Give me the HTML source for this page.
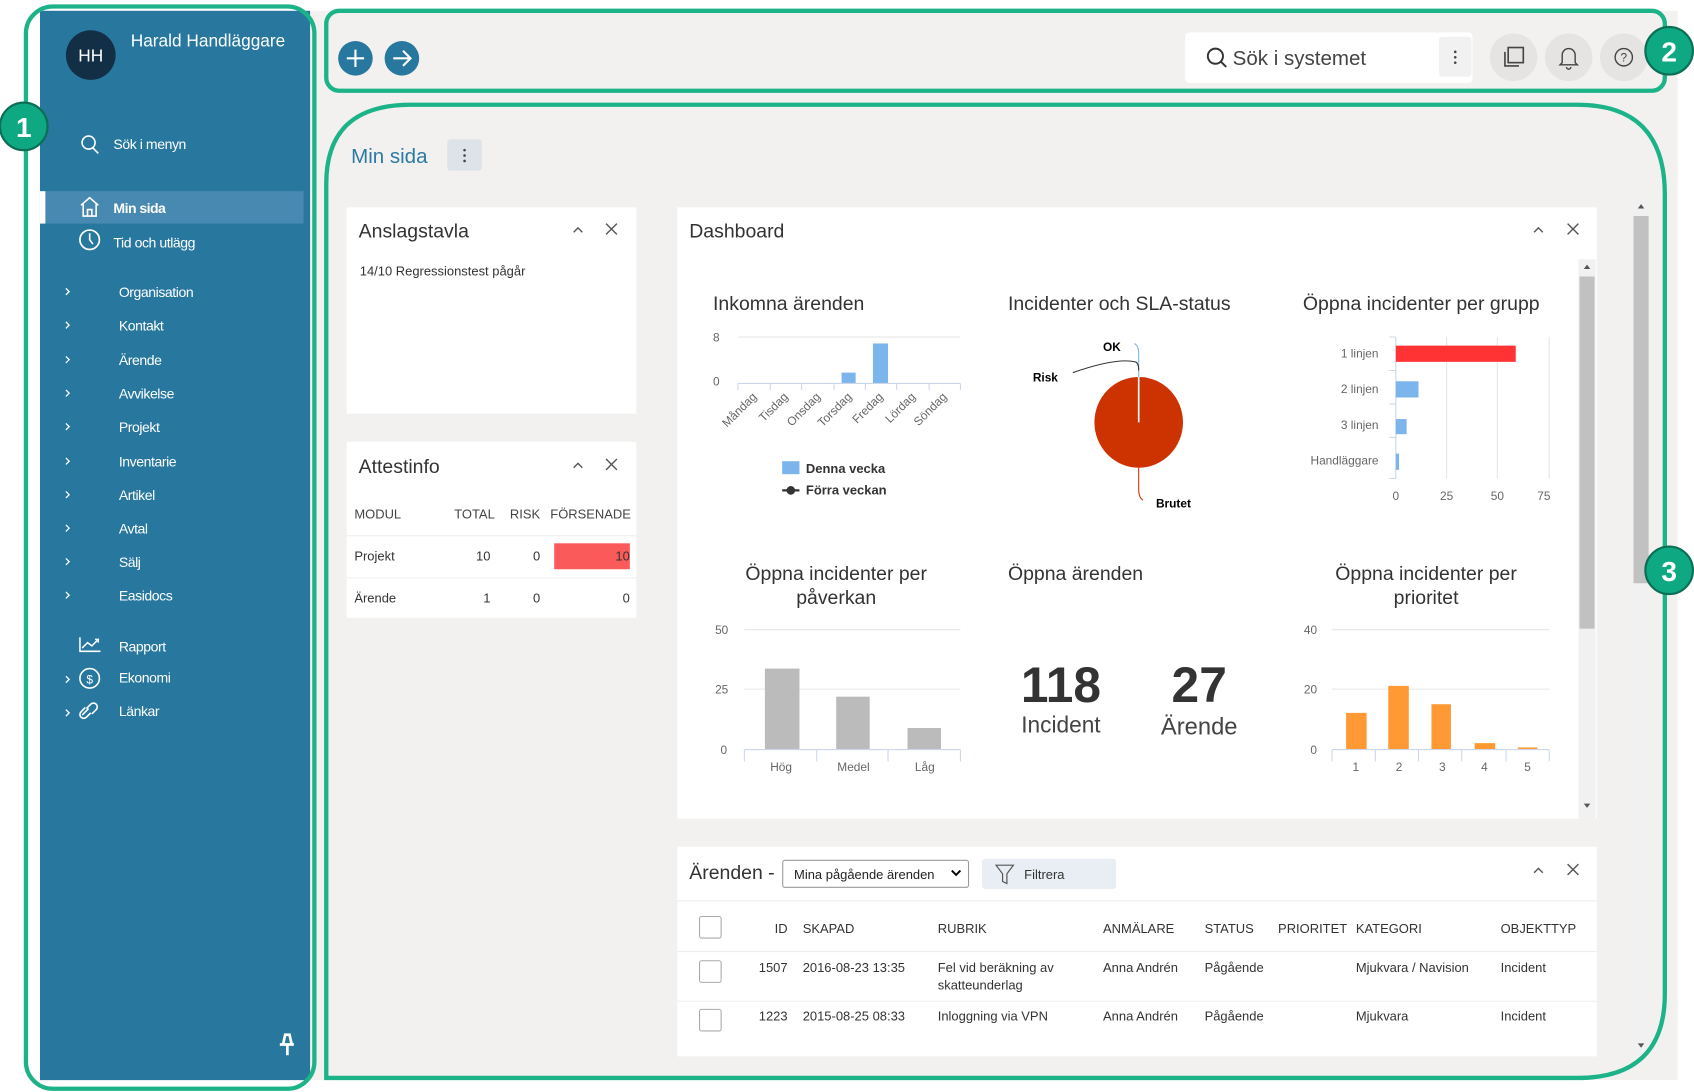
<!DOCTYPE html>
<html><head><meta charset="utf-8">
<style>
html,body{margin:0;padding:0;background:#fff;width:1694px;height:1092px;overflow:hidden}
svg{display:block}
text{font-family:"Liberation Sans",sans-serif}
</style></head><body>
<svg width="1694" height="1092" viewBox="0 0 1568 1011" preserveAspectRatio="none" xmlns="http://www.w3.org/2000/svg">
<rect x="0" y="0" width="1568" height="1011" fill="#fff"/>
<rect x="37" y="10" width="1516" height="990" fill="#f2f1ef"/>
<!-- sidebar -->
<rect x="37" y="10" width="250" height="990" fill="#27779f"/>
<circle cx="84" cy="51" r="23" fill="#132f45"/>
<text x="84" y="57" font-size="16" fill="#fff" text-anchor="middle">HH</text>
<text x="121" y="43" font-size="16" fill="#fff">Harald Handläggare</text>
<circle cx="82" cy="132" r="6" fill="none" stroke="#fff" stroke-width="1.5"/><line x1="86" y1="137" x2="91" y2="142" stroke="#fff" stroke-width="1.5"/>
<text x="105" y="138" font-size="13" fill="#fff" letter-spacing="-0.4">Sök i menyn</text>
<rect x="37" y="177" width="244" height="30" fill="#4789b0"/>
<rect x="37" y="177" width="5" height="30" fill="#fff"/>
<path d="M75 190 L83 183 L91 190 M77 189 V200 H89 V189 M81 200 V194 H85 V200" fill="none" stroke="#fff" stroke-width="1.5"/>
<text x="105" y="197" font-size="13" fill="#fff" font-weight="bold" letter-spacing="-0.5">Min sida</text>
<circle cx="83" cy="222" r="9" fill="none" stroke="#fff" stroke-width="1.6"/><path d="M83 216 V222 L86 226" fill="none" stroke="#fff" stroke-width="1.5"/>
<text x="105" y="229" font-size="13" fill="#fff" letter-spacing="-0.4">Tid och utlägg</text>
<g font-size="13" fill="#fff" letter-spacing="-0.4">
<text x="110" y="275">Organisation</text><text x="110" y="306">Kontakt</text><text x="110" y="338">Ärende</text><text x="110" y="369">Avvikelse</text><text x="110" y="400">Projekt</text><text x="110" y="432">Inventarie</text><text x="110" y="463">Artikel</text><text x="110" y="494">Avtal</text><text x="110" y="525">Sälj</text><text x="110" y="556">Easidocs</text>
<text x="110" y="603">Rapport</text><text x="110" y="632">Ekonomi</text><text x="110" y="663">Länkar</text>
</g>
<g fill="none" stroke="#fff" stroke-width="1.2">
<path d="M61 267 l3 3 l-3 3 M61 298 l3 3 l-3 3 M61 330 l3 3 l-3 3 M61 361 l3 3 l-3 3 M61 392 l3 3 l-3 3 M61 424 l3 3 l-3 3 M61 455 l3 3 l-3 3 M61 486 l3 3 l-3 3 M61 517 l3 3 l-3 3 M61 548 l3 3 l-3 3 M61 626 l3 3 l-3 3 M61 657 l3 3 l-3 3"/>
<path d="M74 590 V603 H93 M76 600 l5 -5 l4 3 l6 -6 M88 592 h3 v3" stroke-width="1.4"/>
<circle cx="83" cy="628" r="9" stroke-width="1.5"/>
<path d="M76 662 l6 -6 M80 656 l4-4 a3 3 0 0 1 5 5 l-4 4 M84 660 l-4 4 a3 3 0 0 1 -5 -5 l4-4" stroke-width="1.5"/>
</g>
<text x="83" y="633" font-size="11" fill="#fff" text-anchor="middle">$</text>
<path d="M259 967 h13 M262 967 l2-9 h4 l2 9 M266 967 v10" stroke="#fff" stroke-width="2.5" fill="none"/>
<!-- top bar -->
<circle cx="329" cy="54" r="16" fill="#27779f"/><path d="M321 54 h16 M329 46 v16" stroke="#fff" stroke-width="2"/>
<circle cx="372" cy="54" r="16" fill="#27779f"/><path d="M364 54 h15 M373 47 l7 7 l-7 7" stroke="#fff" stroke-width="2" fill="none"/>
<rect x="1097" y="30" width="266" height="47" rx="4" fill="#fff"/>
<rect x="1332" y="34" width="30" height="37" rx="3" fill="#f1f1f1"/>
<circle cx="1347" cy="48" r="1.2" fill="#444"/><circle cx="1347" cy="53" r="1.2" fill="#444"/><circle cx="1347" cy="58" r="1.2" fill="#444"/>
<circle cx="1125" cy="52" r="7" fill="none" stroke="#333" stroke-width="1.8"/><line x1="1130" y1="57" x2="1135" y2="62" stroke="#333" stroke-width="1.8"/>
<text x="1141" y="60" font-size="19" fill="#444">Sök i systemet</text>
<circle cx="1401" cy="53" r="22" fill="#e5e4e2"/><circle cx="1452" cy="53" r="22" fill="#e5e4e2"/><circle cx="1503" cy="53" r="22" fill="#e5e4e2"/>
<rect x="1396" y="44" width="14" height="14" fill="none" stroke="#444" stroke-width="1.5"/><path d="M1393 48 v13 h13" fill="none" stroke="#444" stroke-width="1.5"/>
<path d="M1446 58 v-7 a6 6 0 0 1 12 0 v7 l2 2 h-16 z M1450 62 a2 2 0 0 0 4 0" fill="none" stroke="#444" stroke-width="1.3"/>
<circle cx="1503" cy="53" r="8" fill="none" stroke="#444" stroke-width="1.3"/><text x="1503" y="57" font-size="11" fill="#444" text-anchor="middle">?</text>
<!-- Min sida -->
<text x="325" y="151" font-size="19" fill="#2b7aa5">Min sida</text>
<rect x="414" y="129" width="32" height="29" rx="3" fill="#dde3e8"/>
<circle cx="430" cy="139" r="1.2" fill="#444"/><circle cx="430" cy="144" r="1.2" fill="#444"/><circle cx="430" cy="149" r="1.2" fill="#444"/>
<!-- cards -->
<rect x="321" y="192" width="268" height="191" fill="#fff"/>
<text x="332" y="220" font-size="18" fill="#333">Anslagstavla</text>
<path d="M531 215 l4-4 l4 4" fill="none" stroke="#555" stroke-width="1.3"/>
<path d="M561 207 l10 10 M571 207 l-10 10" stroke="#555" stroke-width="1.3"/>
<text x="333" y="255" font-size="12" fill="#333">14/10  Regressionstest pågår</text>
<rect x="321" y="409" width="268" height="163" fill="#fff"/>
<text x="332" y="438" font-size="18" fill="#333">Attestinfo</text>
<path d="M531 433 l4-4 l4 4" fill="none" stroke="#555" stroke-width="1.3"/>
<path d="M561 425 l10 10 M571 425 l-10 10" stroke="#555" stroke-width="1.3"/>
<g font-size="12" fill="#444">
<text x="328" y="480">MODUL</text><text x="458" y="480" text-anchor="end">TOTAL</text><text x="500" y="480" text-anchor="end">RISK</text><text x="584" y="480" text-anchor="end">FÖRSENADE</text>
</g>
<line x1="321" y1="496" x2="589" y2="496" stroke="#eee"/>
<rect x="513" y="503" width="70" height="24" fill="#fb5a5a"/>
<g font-size="12" fill="#333">
<text x="328" y="519">Projekt</text><text x="454" y="519" text-anchor="end">10</text><text x="500" y="519" text-anchor="end">0</text><text x="583" y="519" text-anchor="end">10</text>
<text x="328" y="558">Ärende</text><text x="454" y="558" text-anchor="end">1</text><text x="500" y="558" text-anchor="end">0</text><text x="583" y="558" text-anchor="end">0</text>
</g>
<line x1="321" y1="535" x2="589" y2="535" stroke="#eee"/>
<!-- Dashboard -->
<rect x="627" y="192" width="851" height="566" fill="#fff"/>
<text x="638" y="220" font-size="18" fill="#333">Dashboard</text>
<path d="M1420 215 l4-4 l4 4" fill="none" stroke="#555" stroke-width="1.3"/>
<path d="M1451 207 l10 10 M1461 207 l-10 10" stroke="#555" stroke-width="1.3"/>
<rect x="1461" y="240" width="16" height="518" fill="#f1f1f1"/>
<rect x="1462" y="256" width="14" height="326" fill="#c1c1c1"/>
<path d="M1466 249 l3-4 l3 4z M1466 744 l3 4 l3-4z" fill="#555"/>
<rect x="1511" y="186" width="16" height="790" fill="#f1f1f1"/>
<rect x="1512" y="200" width="14" height="340" fill="#c1c1c1"/>
<path d="M1516 193 l3-4 l3 4z M1516 966 l3 4 l3-4z" fill="#555"/>
<!-- chart 1 -->
<text x="660" y="287" font-size="18" fill="#333">Inkomna ärenden</text>
<g font-size="11" fill="#666"><text x="663" y="316" text-anchor="middle">8</text><text x="663" y="357" text-anchor="middle">0</text></g>
<line x1="683" y1="312" x2="889" y2="312" stroke="#e6e6e6"/>
<rect x="779" y="345" width="13" height="10" fill="#7cb5ec"/><rect x="808" y="318" width="14" height="37" fill="#7cb5ec"/>
<path d="M683 355 H889 M683 355 v6 M713 355 v6 M742 355 v6 M772 355 v6 M801 355 v6 M830 355 v6 M860 355 v6 M889 355 v6" stroke="#ccd6eb"/>
<g font-size="11" fill="#666" text-anchor="end">
<text transform="translate(701,368) rotate(-45)">Måndag</text><text transform="translate(730,368) rotate(-45)">Tisdag</text><text transform="translate(760,368) rotate(-45)">Onsdag</text><text transform="translate(789,368) rotate(-45)">Torsdag</text><text transform="translate(818,368) rotate(-45)">Fredag</text><text transform="translate(848,368) rotate(-45)">Lördag</text><text transform="translate(877,368) rotate(-45)">Söndag</text>
</g>
<rect x="724" y="427" width="16" height="12" fill="#7cb5ec"/>
<text x="746" y="438" font-size="12" font-weight="bold" fill="#333">Denna vecka</text>
<line x1="724" y1="454" x2="740" y2="454" stroke="#333" stroke-width="2"/><circle cx="732" cy="454" r="4" fill="#333"/>
<text x="746" y="458" font-size="12" font-weight="bold" fill="#333">Förra veckan</text>
<!-- pie -->
<text x="933" y="287" font-size="18" fill="#333">Incidenter och SLA-status</text>
<ellipse cx="1054" cy="391" rx="41" ry="42" fill="#cc3300"/>
<line x1="1054" y1="349" x2="1054" y2="391" stroke="#fff" stroke-width="1.5"/>
<path d="M1050 318 q4 2 4 10 V349" fill="none" stroke="#7cb5ec"/>
<path d="M993 345 q40 -14 58 -10 q3 1 3 8" fill="none" stroke="#333"/>
<path d="M1054 433 v20 q0 8 4 10" fill="none" stroke="#cc3300"/>
<g font-size="11" font-weight="bold" fill="#000"><text x="1021" y="325">OK</text><text x="956" y="353">Risk</text><text x="1070" y="470">Brutet</text></g>
<!-- grupp -->
<text x="1206" y="287" font-size="18" fill="#333">Öppna incidenter per grupp</text>
<path d="M1339 312 V443 M1386 312 V443 M1434 312 V443" stroke="#e6e6e6"/>
<path d="M1292 312 V443 M1286 312 h6 M1286 343 h6 M1286 374 h6 M1286 405 h6 M1286 443 h6" stroke="#ccd6eb"/>
<rect x="1292" y="320" width="111" height="15" fill="#ff3333"/>
<rect x="1292" y="353" width="21" height="15" fill="#7cb5ec"/>
<rect x="1292" y="388" width="10" height="14" fill="#7cb5ec"/>
<rect x="1292" y="420" width="3" height="15" fill="#7cb5ec"/>
<g font-size="11" fill="#666" text-anchor="end"><text x="1276" y="331">1 linjen</text><text x="1276" y="364">2 linjen</text><text x="1276" y="397">3 linjen</text><text x="1276" y="430">Handläggare</text></g>
<g font-size="11" fill="#666" text-anchor="middle"><text x="1292" y="463">0</text><text x="1339" y="463">25</text><text x="1386" y="463">50</text><text x="1429" y="463">75</text></g>
<!-- påverkan -->
<text x="774" y="537" font-size="18" fill="#333" text-anchor="middle">Öppna incidenter per</text>
<text x="774" y="559" font-size="18" fill="#333" text-anchor="middle">påverkan</text>
<path d="M689 583 H889 M689 638 H889" stroke="#e6e6e6"/>
<g font-size="11" fill="#666" text-anchor="middle"><text x="668" y="587">50</text><text x="668" y="642">25</text><text x="670" y="698">0</text></g>
<rect x="708" y="619" width="32" height="75" fill="#bbb"/><rect x="774" y="645" width="31" height="49" fill="#bbb"/><rect x="840" y="674" width="31" height="20" fill="#bbb"/>
<path d="M689 694 H889 M689 694 v11 M756 694 v11 M822 694 v11 M889 694 v11" stroke="#ccd6eb"/>
<g font-size="11" fill="#666" text-anchor="middle"><text x="723" y="714">Hög</text><text x="790" y="714">Medel</text><text x="856" y="714">Låg</text></g>
<!-- öppna ärenden -->
<text x="933" y="537" font-size="18" fill="#333">Öppna ärenden</text>
<text x="982" y="650" font-size="46" font-weight="bold" fill="#333" text-anchor="middle">118</text>
<text x="982" y="678" font-size="21" fill="#444" text-anchor="middle">Incident</text>
<text x="1110" y="650" font-size="46" font-weight="bold" fill="#333" text-anchor="middle">27</text>
<text x="1110" y="680" font-size="22" fill="#444" text-anchor="middle">Ärende</text>
<!-- prioritet -->
<text x="1320" y="537" font-size="18" fill="#333" text-anchor="middle">Öppna incidenter per</text>
<text x="1320" y="559" font-size="18" fill="#333" text-anchor="middle">prioritet</text>
<path d="M1233 583 H1434 M1233 638 H1434" stroke="#e6e6e6"/>
<g font-size="11" fill="#666" text-anchor="middle"><text x="1213" y="587">40</text><text x="1213" y="642">20</text><text x="1216" y="698">0</text></g>
<g fill="#ff9933"><rect x="1246" y="660" width="19" height="34"/><rect x="1285" y="635" width="19" height="59"/><rect x="1325" y="652" width="18" height="42"/><rect x="1365" y="688" width="19" height="6"/><rect x="1405" y="692" width="18" height="2"/></g>
<path d="M1233 694 H1434 M1233 694 v11 M1273 694 v11 M1313 694 v11 M1353 694 v11 M1394 694 v11 M1434 694 v11" stroke="#ccd6eb"/>
<g font-size="11" fill="#666" text-anchor="middle"><text x="1255" y="714">1</text><text x="1295" y="714">2</text><text x="1335" y="714">3</text><text x="1374" y="714">4</text><text x="1414" y="714">5</text></g>
<!-- Ärenden -->
<rect x="627" y="784" width="851" height="194" fill="#fff"/>
<text x="638" y="814" font-size="18" fill="#333">Ärenden -</text>
<rect x="724.5" y="796.5" width="172" height="25" rx="2" fill="#fff" stroke="#999"/>
<text x="735" y="814" font-size="12" fill="#222">Mina pågående ärenden</text>
<path d="M881 806 l4 4 l4 -4" fill="none" stroke="#000" stroke-width="1.8"/>
<rect x="909" y="795" width="124" height="28" rx="3" fill="#e8eef3"/>
<path d="M922 801 h16 l-6 8 v9 l-4 -2 v-7 z" fill="none" stroke="#555" stroke-width="1.1"/>
<text x="948" y="814" font-size="12" fill="#333">Filtrera</text>
<path d="M1420 808 l4-4 l4 4" fill="none" stroke="#555" stroke-width="1.3"/>
<path d="M1451 800 l10 10 M1461 800 l-10 10" stroke="#555" stroke-width="1.3"/>
<line x1="627" y1="834" x2="1478" y2="834" stroke="#eee"/>
<g fill="#fff" stroke="#aaa"><rect x="647.5" y="848.5" width="20" height="20" rx="2"/><rect x="647.5" y="889.5" width="20" height="20" rx="2"/><rect x="647.5" y="934.5" width="20" height="20" rx="2"/></g>
<g font-size="12" fill="#333">
<text x="729" y="864" text-anchor="end">ID</text><text x="743" y="864">SKAPAD</text><text x="868" y="864">RUBRIK</text><text x="1021" y="864">ANMÄLARE</text><text x="1115" y="864">STATUS</text><text x="1183" y="864">PRIORITET</text><text x="1255" y="864">KATEGORI</text><text x="1389" y="864">OBJEKTTYP</text>
<text x="729" y="900" text-anchor="end">1507</text><text x="743" y="900">2016-08-23 13:35</text><text x="868" y="900">Fel vid beräkning av</text><text x="868" y="916">skatteunderlag</text><text x="1021" y="900">Anna Andrén</text><text x="1115" y="900">Pågående</text><text x="1255" y="900">Mjukvara / Navision</text><text x="1389" y="900">Incident</text>
<text x="729" y="945" text-anchor="end">1223</text><text x="743" y="945">2015-08-25 08:33</text><text x="868" y="945">Inloggning via VPN</text><text x="1021" y="945">Anna Andrén</text><text x="1115" y="945">Pågående</text><text x="1255" y="945">Mjukvara</text><text x="1389" y="945">Incident</text>
</g>
<path d="M627 881 H1478 M627 927 H1478" stroke="#eee"/>
<!-- green outlines -->
<g fill="none" stroke="#1db389" stroke-width="4">
<rect x="24" y="6" width="267" height="1002" rx="25"/>
<rect x="302" y="10" width="1239" height="74" rx="12"/>
<path d="M302 998 V170 Q302 97 380 97 H1460 Q1541 97 1541 180 V920 Q1541 998 1460 998 Z"/>
</g>
<g font-size="26" font-weight="bold" fill="#fff" text-anchor="middle">
<circle cx="22" cy="117" r="22" fill="#0ea882" stroke="#0b6e55" stroke-width="2"/><text x="22" y="127">1</text>
<circle cx="1545" cy="47" r="22" fill="#0ea882" stroke="#0b6e55" stroke-width="2"/><text x="1545" y="57">2</text>
<circle cx="1545" cy="528" r="22" fill="#0ea882" stroke="#0b6e55" stroke-width="2"/><text x="1545" y="538">3</text>
</g>
</svg>
</body></html>
